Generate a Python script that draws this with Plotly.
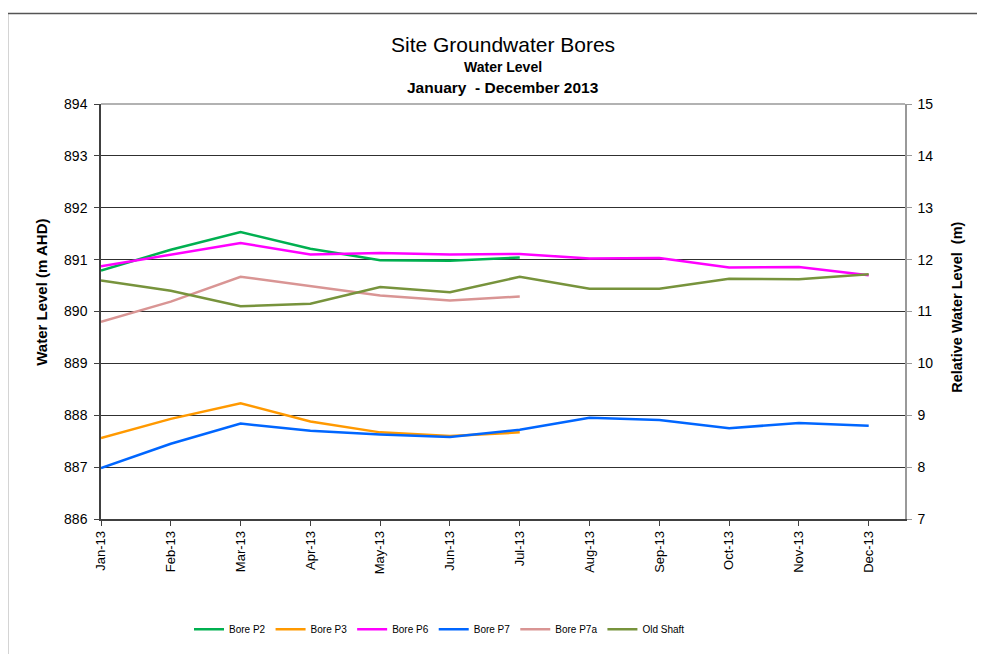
import plotly.graph_objects as go

months = ["Jan-13", "Feb-13", "Mar-13", "Apr-13", "May-13", "Jun-13",
          "Jul-13", "Aug-13", "Sep-13", "Oct-13", "Nov-13", "Dec-13"]

bore_p2 = [890.79, 891.19, 891.53, 891.21, 890.99, 890.98, 891.04, None, None, None, None, None]
bore_p3 = [887.56, 887.93, 888.23, 887.88, 887.67, 887.60, 887.67, None, None, None, None, None]
bore_p6 = [890.87, 891.10, 891.32, 891.10, 891.13, 891.10, 891.11, 891.02, 891.03, 890.85, 890.86, 890.70]
bore_p7 = [886.98, 887.45, 887.84, 887.70, 887.63, 887.58, 887.72, 887.95, 887.91, 887.75, 887.85, 887.80]
bore_p7a = [889.80, 890.19, 890.67, 890.49, 890.31, 890.21, 890.29, None, None, None, None, None]
old_shaft = [890.60, 890.40, 890.10, 890.15, 890.47, 890.37, 890.67, 890.44, 890.44, 890.63, 890.62, 890.72]

left_ticks = [886, 887, 888, 889, 890, 891, 892, 893, 894]
right_ticks = [7, 8, 9, 10, 11, 12, 13, 14, 15]

series = [
    ("Bore P2", bore_p2, "#00B050"),
    ("Bore P3", bore_p3, "#FF9900"),
    ("Bore P6", bore_p6, "#FF00FF"),
    ("Bore P7", bore_p7, "#0066FF"),
    ("Bore P7a", bore_p7a, "#D99594"),
    ("Old Shaft", old_shaft, "#77933C"),
]

FONT = "Liberation Sans, Arial, sans-serif"

# page body has an 8px margin; shift plot so it lands where the reference is
OFF = 8
PL, PR, PT, PB = 101, 905, 104, 519.5   # target plot box in window pixels
W, H = 985, 654
PH = PB - PT
PW = PR - PL


def py(ypx):
    return 1 + (PT - ypx) / PH


def px(xpx):
    return (xpx - PL) / PW


fig = go.Figure()
for name, vals, col in series:
    fig.add_trace(go.Scatter(x=months, y=vals, name=name, mode="lines",
                             line=dict(color=col, width=2.5), connectgaps=False))

fig.add_trace(go.Scatter(x=months, y=[None] * len(months), yaxis="y2",
                         showlegend=False, hoverinfo="skip"))

fig.update_layout(
    width=W, height=H,
    margin=dict(l=PL - OFF, r=W - (PR - OFF), t=PT - OFF, b=H - (PB - OFF)),
    paper_bgcolor="white", plot_bgcolor="white",
    font=dict(family=FONT, size=12, color="black"),
    showlegend=True,
    legend=dict(orientation="h", x=px(189), xanchor="left", y=py(630), yanchor="middle",
                font=dict(size=10), itemwidth=30, tracegroupgap=0),
    xaxis=dict(type="category", categoryorder="array", categoryarray=months,
               range=[0, 11.52], tickangle=-90, ticks="outside", ticklen=5,
               tickcolor="#404040", showline=True, linecolor="#404040", linewidth=1.5,
               showgrid=False, zeroline=False, tickfont=dict(size=13)),
    yaxis=dict(range=[886, 894], tickvals=left_ticks, ticks="outside", ticklen=5,
               tickcolor="#404040", showline=True, linecolor="#404040", linewidth=1.5,
               showgrid=True, gridcolor="#303030", gridwidth=1, zeroline=False,
               tickfont=dict(size=14), ticklabelstandoff=4),
    yaxis2=dict(range=[7, 15], tickvals=right_ticks, overlaying="y", side="right",
                ticks="outside", ticklen=5, tickcolor="#999999", showline=True,
                linecolor="#999999", linewidth=1.5, showgrid=False, zeroline=False,
                tickfont=dict(size=14), ticklabelstandoff=3),
    annotations=[
        dict(text="Site Groundwater Bores", xref="paper", yref="paper", x=0.5, y=py(44),
             xanchor="center", yanchor="middle", showarrow=False, font=dict(size=21)),
        dict(text="<b>Water Level</b>", xref="paper", yref="paper", x=0.5, y=py(67),
             xanchor="center", yanchor="middle", showarrow=False, font=dict(size=14)),
        dict(text="<b>January  - December 2013</b>", xref="paper", yref="paper", x=0.5, y=py(87),
             xanchor="center", yanchor="middle", showarrow=False, font=dict(size=15.5)),
        dict(text="<b>Water Level (m AHD)</b>", xref="paper", yref="paper", x=px(42), y=py(293),
             xanchor="center", yanchor="middle", textangle=-90, showarrow=False,
             font=dict(size=15)),
        dict(text="<b>Relative Water Level  (m)</b>", xref="paper", yref="paper", x=px(957),
             y=py(308), xanchor="center", yanchor="middle", textangle=-90, showarrow=False,
             font=dict(size=14.5)),
    ],
    shapes=[
        dict(type="line", xref="paper", yref="paper", x0=0, x1=1, y0=1, y1=1,
             line=dict(color="#999999", width=1.5)),
        dict(type="rect", xref="paper", yref="paper", x0=px(7.5), x1=1.25,
             y0=-0.5, y1=py(13.5), line=dict(color="#555555", width=1.5),
             fillcolor="rgba(0,0,0,0)", layer="below"),
    ],
)

fig.write_html("out.html")
